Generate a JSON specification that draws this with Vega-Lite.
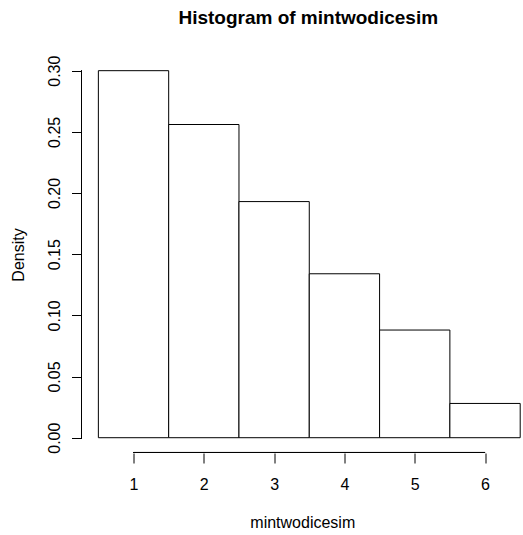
{
  "$schema": "https://vega.github.io/schema/vega-lite/v6.json",
  "autosize": "none",
  "padding": {"left": 81.5, "top": 56, "right": 0, "bottom": 82},
  "width": 441.5,
  "height": 397,
  "background": "white",
  "config": {
    "view": {"stroke": null},
    "font": "Liberation Sans",
    "axis": {"grid": false, "labelFont": "Liberation Sans", "titleFont": "Liberation Sans", "labelFontSize": 16, "titleFontSize": 16, "labelColor": "#000", "titleColor": "#000", "tickColor": "#000", "titleFontWeight": "normal"}
  },
  "title": {"text": "Histogram of mintwodicesim", "fontSize": 19, "fontWeight": "bold", "font": "Liberation Sans", "color": "#000", "anchor": "middle", "dx": 6, "offset": 27},
  "data": {"values": [
    {"bin_start": 0.5, "bin_end": 1.5, "density": 0.300},
    {"bin_start": 1.5, "bin_end": 2.5, "density": 0.256},
    {"bin_start": 2.5, "bin_end": 3.5, "density": 0.193},
    {"bin_start": 3.5, "bin_end": 4.5, "density": 0.134},
    {"bin_start": 4.5, "bin_end": 5.5, "density": 0.088},
    {"bin_start": 5.5, "bin_end": 6.5, "density": 0.028}
  ]},
  "layer": [
    {
      "mark": {"type": "rect", "fill": "white", "stroke": "#000", "strokeWidth": 1},
      "encoding": {
        "x": {"field": "bin_start", "type": "quantitative", "scale": {"domain": [0.26, 6.54], "nice": false, "zero": false},
          "axis": {"title": "mintwodicesim", "values": [1, 2, 3, 4, 5, 6], "format": "d", "domain": false, "tickSize": 10, "labelPadding": 13, "titlePadding": 22, "labelFlush": false}},
        "x2": {"field": "bin_end"},
        "y": {"field": "density", "type": "quantitative", "scale": {"domain": [-0.0125, 0.312], "nice": false, "zero": false},
          "axis": {"title": "Density", "values": [0, 0.05, 0.1, 0.15, 0.2, 0.25, 0.3], "format": ".2f", "domain": false, "tickSize": 10, "labelAngle": -90, "labelAlign": "center", "labelBaseline": "bottom", "labelPadding": 9, "titlePadding": 20, "labelFlush": false}},
        "y2": {"datum": 0}
      }
    },
    {
      "mark": {"type": "rule", "color": "#000", "strokeWidth": 1},
      "encoding": {
        "x": {"datum": 1},
        "x2": {"datum": 6},
        "y": {"datum": -0.01209}
      }
    },
    {
      "mark": {"type": "rule", "color": "#000", "strokeWidth": 1},
      "encoding": {
        "x": {"datum": 0.26},
        "y": {"datum": 0},
        "y2": {"datum": 0.3}
      }
    }
  ]
}
